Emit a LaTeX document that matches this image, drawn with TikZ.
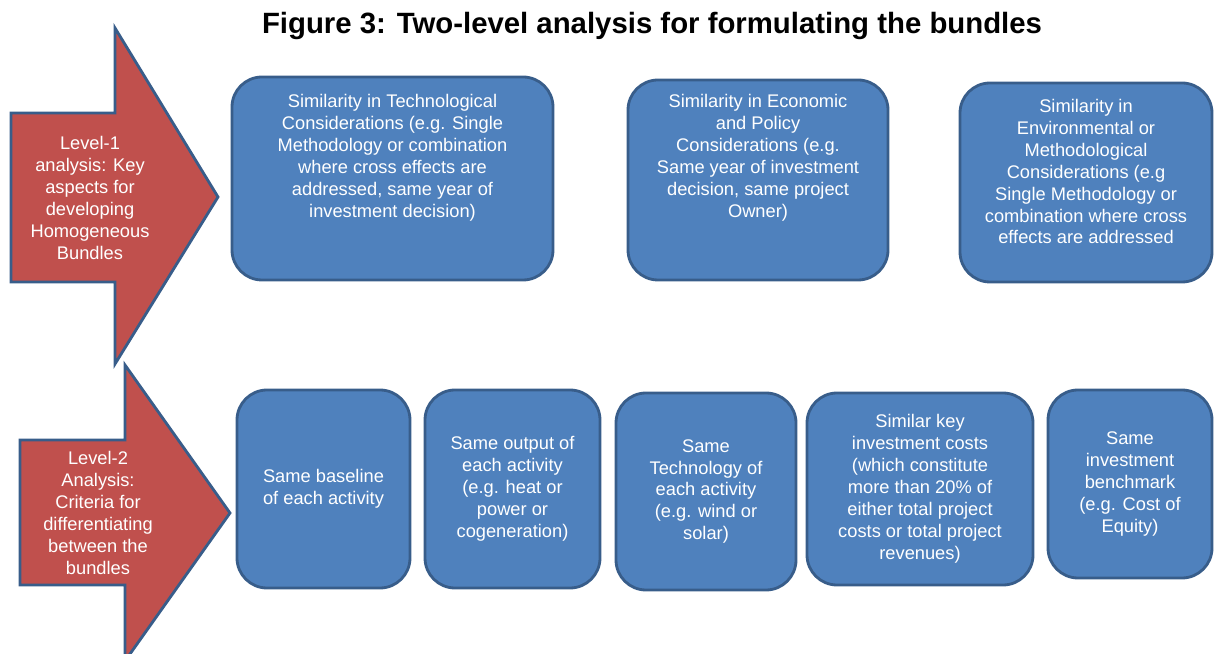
\documentclass[tikz,border=0pt]{standalone}
\usepackage{fontspec}
\setmainfont{Liberation Sans}
\usepackage{xcolor}
\definecolor{levelred}{RGB}{192, 80, 77}
\definecolor{bundleblue}{RGB}{79, 129, 189}
\definecolor{edgeblue}{RGB}{56, 93, 138}
\usepackage{tikz}
\usetikzlibrary{
  positioning
}

\begin{document}
\begin{tikzpicture}[
  levelarrow/.style={draw=edgeblue, line width=1.6pt, fill=levelred, line join=miter},
  arrowtext/.style={text=white, align=center, inner sep=0pt, font=\fontsize{10.4}{12.5}\selectfont},
  bundlebox/.style={draw=edgeblue, line width=1.6pt, fill=bundleblue, rounded corners=0.6cm, inner sep=0pt},
  boxtext/.style={text=white, align=center, inner sep=0pt, font=\fontsize{10.4}{12.5}\selectfont}
]
  \useasboundingbox (0, 0) rectangle (24.28, 13.08);

  % title
  \node[font=\bfseries\fontsize{16.7}{20}\selectfont] (title) at (13.04, 12.56) {Figure 3: Two-level analysis for formulating the bundles};

  % level-1 arrow
  \draw[levelarrow] (0.22, 10.82) -- (2.30, 10.82) -- (2.30, 12.52) -- (4.36, 9.14) -- (2.30, 5.80) -- (2.30, 7.44) -- (0.22, 7.44) -- cycle;
  \node[arrowtext] (lvl1) at (1.80, 9.12) {Level-1\\ analysis: Key\\ aspects for\\ developing\\ Homogeneous\\ Bundles};

  % level-2 arrow
  \draw[levelarrow] (0.40, 4.28) -- (2.50, 4.28) -- (2.50, 5.78) -- (4.60, 2.82) -- (2.50, -0.14) -- (2.50, 1.38) -- (0.40, 1.38) -- cycle;
  \node[arrowtext] (lvl2) at (1.96, 2.82) {Level-2\\ Analysis:\\ Criteria for\\ differentiating\\ between the\\ bundles};

  % level-1 aspects (text at the top of each box)
  \node[bundlebox, minimum width=6.42cm, minimum height=4.06cm] (tech) at (7.85, 9.51) {};
  \node[bundlebox, minimum width=5.20cm, minimum height=4.00cm] (econ) at (15.16, 9.48) {};
  \node[bundlebox, minimum width=5.04cm, minimum height=3.98cm] (envi) at (21.72, 9.43) {};

  \node[boxtext, below=0.36cm of tech.north] (techtxt) {Similarity in Technological\\ Considerations (e.g. Single\\ Methodology or combination\\ where cross effects are\\ addressed, same year of\\ investment decision)};
  \node[boxtext, below=0.30cm of econ.north] (econtxt) {Similarity in Economic\\ and Policy\\ Considerations (e.g.\\ Same year of investment\\ decision, same project\\ Owner)};
  \node[boxtext, below=0.34cm of envi.north] (envitxt) {Similarity in\\ Environmental or\\ Methodological\\ Considerations (e.g\\ Single Methodology or\\ combination where cross\\ effects are addressed};

  % level-2 criteria
  \node[bundlebox, boxtext, minimum width=3.46cm, minimum height=3.96cm] (base) at (6.47, 3.30) {Same baseline\\ of each activity};
  \node[bundlebox, boxtext, minimum width=3.50cm, minimum height=3.96cm] (outp) at (10.25, 3.30) {Same output of\\ each activity\\ (e.g. heat or\\ power or\\ cogeneration)};
  \node[bundlebox, boxtext, minimum width=3.60cm, minimum height=3.94cm] (tchn) at (14.12, 3.25) {Same\\ Technology of\\ each activity\\ (e.g. wind or\\ solar)};
  \node[bundlebox, boxtext, minimum width=4.52cm, minimum height=3.84cm] (cost) at (18.40, 3.30) {Similar key\\ investment costs\\ (which constitute\\ more than 20\% of\\ either total project\\ costs or total project\\ revenues)};
  \node[bundlebox, boxtext, minimum width=3.28cm, minimum height=3.76cm] (bench) at (22.60, 3.40) {Same\\ investment\\ benchmark\\ (e.g. Cost of\\ Equity)};

\end{tikzpicture}
\end{document}
